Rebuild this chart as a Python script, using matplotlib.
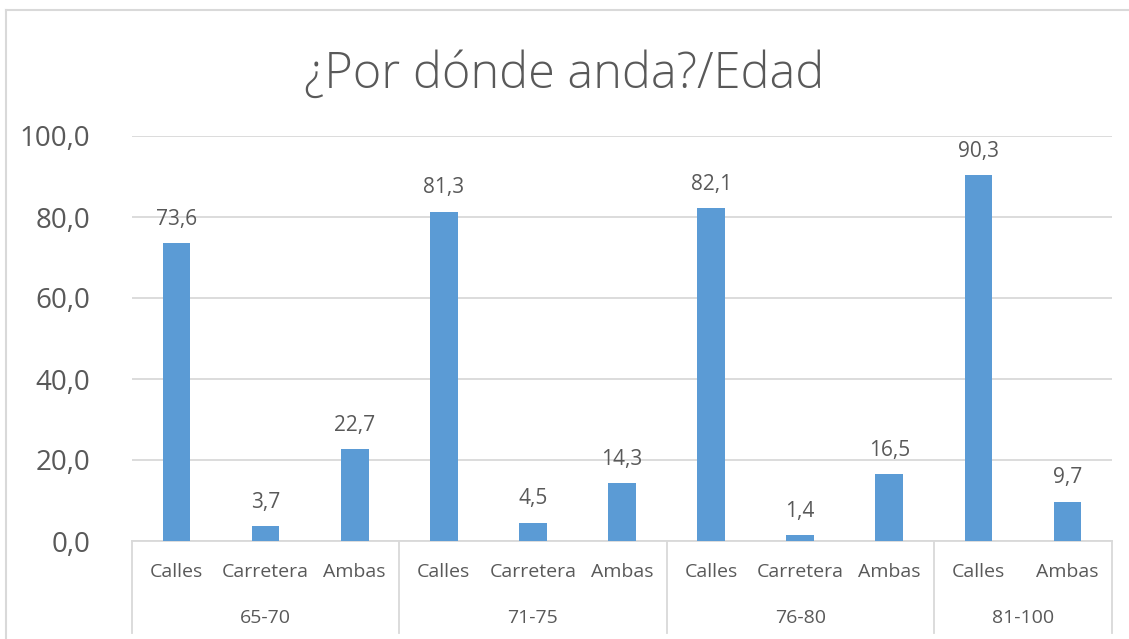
import matplotlib.pyplot as plt
from matplotlib.lines import Line2D
import matplotlib.transforms as mtransforms

plt.rcParams['font.family'] = ['Open Sans', 'DejaVu Sans']

# Data
groups = ['65-70', '71-75', '76-80', '81-100']
group_items = [['Calles', 'Carretera', 'Ambas'],
               ['Calles', 'Carretera', 'Ambas'],
               ['Calles', 'Carretera', 'Ambas'],
               ['Calles', 'Ambas']]
values = [73.6, 3.7, 22.7, 81.3, 4.5, 14.3, 82.1, 1.4, 16.5, 90.3, 9.7]
yticks = [0, 20, 40, 60, 80, 100]

text_col = '#595959'
grid_col = '#d9d9d9'
bar_col = '#5b9bd5'

fig = plt.figure(figsize=(11.29, 6.39), dpi=100)
ax = fig.add_axes([132 / 1129, 98 / 639, 980 / 1129, 405 / 639])

labels = [lab for items in group_items for lab in items]
x = list(range(len(values)))
bars = ax.bar(x, values, width=0.31, color=bar_col, zorder=3)

for xi, v in zip(x, values):
    ax.text(xi, v + 3.3, f'{v:.1f}'.replace('.', ','), ha='center', va='bottom',
            fontsize=15, color=text_col)

ax.set_xlim(-0.5, len(values) - 0.5)
ax.set_ylim(0, 100)
ax.set_yticks(yticks)
ax.set_yticklabels([f'{t:.1f}'.replace('.', ',') for t in yticks],
                   fontsize=20, color=text_col)
ax.tick_params(axis='y', length=0, pad=30)
ax.set_xticks([])
ax.yaxis.grid(True, color=grid_col, linewidth=1.3, zorder=0)
for s in ['top', 'right', 'left']:
    ax.spines[s].set_visible(False)
ax.spines['bottom'].set_color(grid_col)
ax.spines['bottom'].set_linewidth(1.3)

# multi-level category axis
trans = mtransforms.blended_transform_factory(ax.transData, ax.transAxes)
for xi, lab in zip(x, labels):
    ax.text(xi, -0.077, lab, transform=trans, ha='center', va='center',
            fontsize=14, color=text_col)

start = 0
seps = [-0.5]
for g, items in zip(groups, group_items):
    n = len(items)
    mid = start + (n - 1) / 2
    ax.text(mid, -0.19, g, transform=trans, ha='center', va='center',
            fontsize=14, color=text_col)
    start += n
    seps.append(start - 0.5)

for sx in seps:
    ax.add_line(Line2D([sx, sx], [0, -0.227], transform=trans, color=grid_col,
                       linewidth=1.3, clip_on=False))

# title
fig.text(0.5, 1 - 75 / 639, '¿Por dónde anda?/Edad', ha='center', va='center',
         fontsize=35, fontweight='light', color=text_col)

# chart border (left and top edges)
fig.add_artist(Line2D([6 / 1129, 6 / 1129], [0, 1 - 10 / 639], transform=fig.transFigure,
                      color=grid_col, linewidth=1.5))
fig.add_artist(Line2D([6 / 1129, 1], [1 - 10 / 639, 1 - 10 / 639], transform=fig.transFigure,
                      color=grid_col, linewidth=1.5))

fig.savefig('out.png', dpi=100)
